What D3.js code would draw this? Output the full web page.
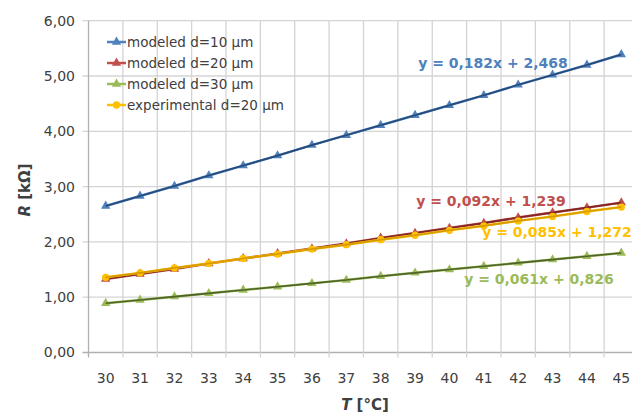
<!DOCTYPE html>
<html>
<head>
<meta charset="utf-8">
<style>
  body { margin: 0; background: #fff; }
  svg text { font-family: "DejaVu Sans", sans-serif; fill: #404040; }
</style>
</head>
<body>
<svg></svg>
<script src="https://d3js.org/d3.v7.min.js"></script>
<script>
// temperatures (category axis)
var temps = [30, 31, 32, 33, 34, 35, 36, 37, 38, 39, 40, 41, 42, 43, 44, 45];
// resistance values [kΩ]
var mod10 = [2.65, 2.83, 3.01, 3.20, 3.38, 3.56, 3.75, 3.93, 4.11, 4.29, 4.47, 4.65, 4.84, 5.02, 5.20, 5.39];
var mod20 = [1.33, 1.42, 1.51, 1.61, 1.70, 1.79, 1.88, 1.97, 2.07, 2.16, 2.25, 2.34, 2.44, 2.53, 2.62, 2.71];
var mod30 = [0.89, 0.95, 1.01, 1.07, 1.13, 1.19, 1.25, 1.31, 1.38, 1.44, 1.50, 1.56, 1.62, 1.68, 1.74, 1.80];
var exp20 = [1.36, 1.44, 1.53, 1.61, 1.70, 1.78, 1.87, 1.95, 2.04, 2.12, 2.21, 2.29, 2.38, 2.46, 2.55, 2.63];
var yTicks = [0, 1, 2, 3, 4, 5, 6];
var seriesNames = ["modeled d=10 µm", "modeled d=20 µm", "modeled d=30 µm", "experimental d=20 µm"];
var trendLabels = ["y = 0,182x + 2,468", "y = 0,092x + 1,239", "y = 0,061x + 0,826", "y = 0,085x + 1,272"];

var series = [
  {name: seriesNames[0], values: mod10, light: "#4f81bd", dark: "#254a78", marker: "triangle", label: trendLabels[0], lx: 493, ly: 68},
  {name: seriesNames[1], values: mod20, light: "#c0504d", dark: "#7f2624", marker: "triangle", label: trendLabels[1], lx: 491, ly: 206},
  {name: seriesNames[2], values: mod30, light: "#9bbb59", dark: "#4f6228", marker: "triangle", label: trendLabels[2], lx: 539, ly: 284},
  {name: seriesNames[3], values: exp20, light: "#ffc000", dark: "#d49a00", marker: "circle", label: trendLabels[3], lx: 557, ly: 237}
];
var labelColors = ["#4f81bd", "#c0504d", "#9bbb59", "#ffc000"];

var W = 632, H = 414;
var svg = d3.select("svg").attr("width", W).attr("height", H);

var plotL = 88.5, plotR = 638.5, plotT = 20.7, plotB = 352.5;

var x = d3.scaleBand().domain(temps).range([plotL, plotR]).padding(0);
var y = d3.scaleLinear().domain([0, 6]).range([plotB, plotT]);
var fmt = function(v) { return d3.format(".2f")(v).replace(".", ","); };

// horizontal gridlines
svg.append("g").selectAll("line").data(yTicks).enter().append("line")
  .attr("x1", plotL - 6).attr("x2", plotR)
  .attr("y1", function(d) { return y(d); }).attr("y2", function(d) { return y(d); })
  .attr("stroke", function(d) { return d === 0 ? "#b0b0b0" : "#d4d4d4"; })
  .attr("stroke-width", 1.3);

// vertical gridlines (between categories)
var bounds = temps.slice(1).map(function(t) { return x(t); });
svg.append("g").selectAll("line").data(bounds).enter().append("line")
  .attr("x1", function(d) { return d; }).attr("x2", function(d) { return d; })
  .attr("y1", plotT).attr("y2", plotB + 5)
  .attr("stroke", "#d4d4d4").attr("stroke-width", 1.3);

// y axis line
svg.append("line").attr("x1", plotL).attr("x2", plotL).attr("y1", plotT).attr("y2", plotB + 5)
  .attr("stroke", "#b0b0b0").attr("stroke-width", 1.3);

// y tick labels
svg.append("g").selectAll("text").data(yTicks).enter().append("text")
  .attr("x", 75).attr("y", function(d) { return y(d); }).attr("dy", "0.35em")
  .attr("text-anchor", "end").style("font-size", "14px")
  .text(fmt);

// x tick labels
svg.append("g").selectAll("text").data(temps).enter().append("text")
  .attr("x", function(d) { return x(d) + x.bandwidth() / 2; }).attr("y", 383)
  .attr("text-anchor", "middle").style("font-size", "14px")
  .text(function(d) { return d; });

// axis titles
var xt = svg.append("text").attr("x", 365).attr("y", 410).attr("text-anchor", "middle")
  .style("font-size", "15px").style("font-weight", "bold");
xt.append("tspan").style("font-style", "italic").text("T");
xt.append("tspan").text(" [°C]");

var yt = svg.append("text").attr("transform", "translate(30,190) rotate(-90)").attr("text-anchor", "middle")
  .style("font-size", "15px").style("font-weight", "bold");
yt.append("tspan").style("font-style", "italic").text("R");
yt.append("tspan").text(" [kΩ]");

var tri = d3.symbol().type(d3.symbolTriangle).size(38);
var circ = d3.symbol().type(d3.symbolCircle).size(42);

var line = d3.line()
  .x(function(d, i) { return x(temps[i]) + x.bandwidth() / 2; })
  .y(function(d) { return y(d); });

// draw series: markers, then the dark line over them
series.forEach(function(s) {
  var g = svg.append("g");
  g.append("path").datum(s.values).attr("d", line)
    .attr("fill", "none").attr("stroke", s.light).attr("stroke-width", 2.5);
  g.selectAll("path.m").data(s.values).enter().append("path").attr("class", "m")
    .attr("d", s.marker === "circle" ? circ : tri)
    .attr("transform", function(d, i) { return "translate(" + (x(temps[i]) + x.bandwidth() / 2) + "," + y(d) + ")"; })
    .attr("fill", s.light);
  g.append("path").datum(s.values).attr("d", line)
    .attr("fill", "none").attr("stroke", s.dark).attr("stroke-width", 1.6);
});

// trend labels
series.forEach(function(s, i) {
  svg.append("text").attr("x", s.lx).attr("y", s.ly).attr("text-anchor", "middle")
    .style("font-size", "14px").style("font-weight", "bold").style("fill", labelColors[i])
    .text(s.label);
});

// legend
var leg = svg.append("g").selectAll("g").data(series).enter().append("g")
  .attr("transform", function(d, i) { return "translate(107," + (42 + i * 21) + ")"; });
leg.append("line").attr("x1", 0).attr("x2", 19).attr("stroke", function(d) { return d.light; }).attr("stroke-width", 2.5);
leg.append("path").attr("d", function(d) { return d.marker === "circle" ? circ() : tri(); })
  .attr("transform", "translate(9.5,0)").attr("fill", function(d) { return d.light; });
leg.append("text").attr("x", 20).attr("dy", "0.35em").style("font-size", "13.5px")
  .text(function(d) { return d.name; });
</script>
</body>
</html>
